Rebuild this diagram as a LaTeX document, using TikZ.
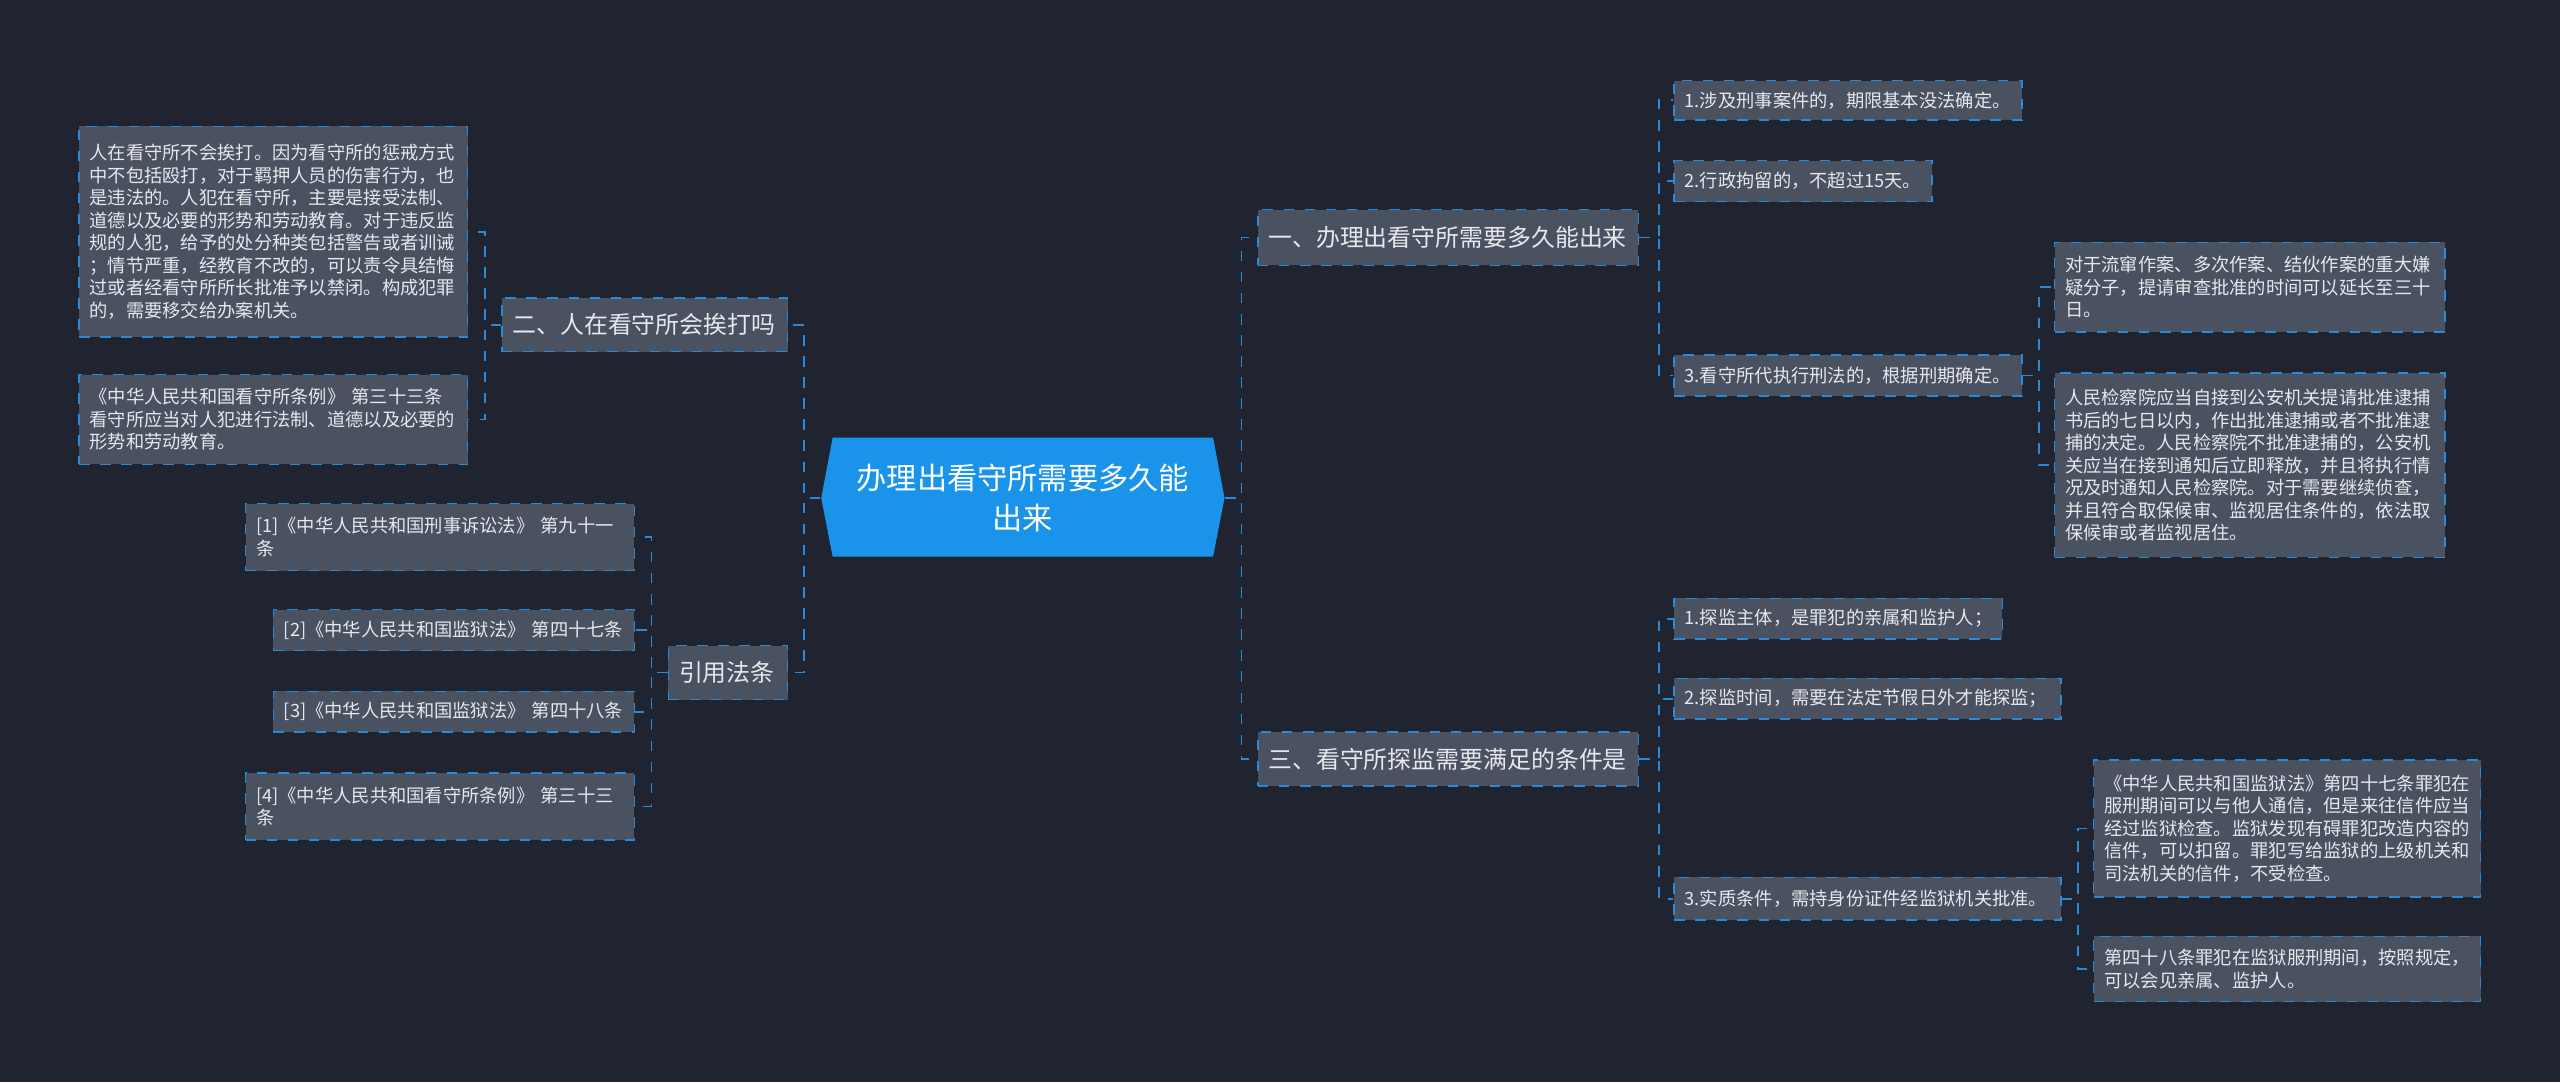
\documentclass[tikz,border=0pt]{standalone}
\usepackage{fontspec}
\setmainfont{Noto Sans CJK SC}
\usepackage{tikz}
\definecolor{bgc}{HTML}{1F2430}
\definecolor{boxc}{HTML}{4A5161}
\definecolor{linec}{HTML}{2A8AD8}
\definecolor{txtc}{HTML}{E6E8EC}
\definecolor{rootc}{HTML}{1A93EA}
\tikzset{
  leaf/.style={draw=linec,dashed,fill=boxc,text=txtc,anchor=north west,inner sep=3pt,
    align=left,font=\fontsize{5.2}{6.4}\selectfont},
  branch/.style={leaf,font=\fontsize{6.8}{8}\selectfont},
  wd/.style={text width={#1*0.1633mm-6pt}},
  ht/.style={minimum height={#1*0.1633mm}},
  link/.style={draw=linec,dashed,line width=0.5pt}
}
\begin{document}
\begin{tikzpicture}[x=0.01633cm,y=-0.01633cm]
\fill[bgc] (0,0) rectangle (1568,663);
\useasboundingbox (0,0) rectangle (1568,663);
% root
\fill[rootc] (503,305)--(510,268)--(743,268)--(750,305)--(743,341)--(510,341)--cycle;
\node[text=white,align=center,minimum width={247*0.1633mm},font=\fontsize{8.6}{11.5}\selectfont](root) at (626.5,305)
  {办理出看守所需要多久能\\出来};
% right side
\node[branch,wd=233,ht=34](b1) at (770,128) {一、办理出看守所需要多久能出来};
\node[leaf,wd=213,ht=24](b1l1) at (1025,49) {1.涉及刑事案件的，期限基本没法确定。};
\node[leaf,wd=158,ht=25](b1l2) at (1025,98) {2.行政拘留的，不超过15天。};
\node[leaf,wd=213,ht=25](b1l3) at (1025,217) {3.看守所代执行刑法的，根据刑期确定。};
\node[leaf,wd=239,ht=55](b1l3a) at (1258,148)
  {对于流窜作案、多次作案、结伙作案的重大嫌\\疑分子，提请审查批准的时间可以延长至三十\\日。};
\node[leaf,wd=239,ht=113](b1l3b) at (1258,228)
  {人民检察院应当自接到公安机关提请批准逮捕\\书后的七日以内，作出批准逮捕或者不批准逮\\捕的决定。人民检察院不批准逮捕的，公安机\\关应当在接到通知后立即释放，并且将执行情\\况及时通知人民检察院。对于需要继续侦查，\\并且符合取保候审、监视居住条件的，依法取\\保候审或者监视居住。};
\node[branch,wd=233,ht=33](b3) at (770,448) {三、看守所探监需要满足的条件是};
\node[leaf,wd=201,ht=25](b3l1) at (1025,366) {1.探监主体，是罪犯的亲属和监护人；};
\node[leaf,wd=237,ht=25](b3l2) at (1025,415) {2.探监时间，需要在法定节假日外才能探监；};
\node[leaf,wd=237,ht=26](b3l3) at (1025,537) {3.实质条件，需持身份证件经监狱机关批准。};
\node[leaf,wd=237,ht=84](b3l3a) at (1282,465)
  {《中华人民共和国监狱法》第四十七条罪犯在\\服刑期间可以与他人通信，但是来往信件应当\\经过监狱检查。监狱发现有碍罪犯改造内容的\\信件，可以扣留。罪犯写给监狱的上级机关和\\司法机关的信件，不受检查。};
\node[leaf,wd=237,ht=40](b3l3b) at (1282,573)
  {第四十八条罪犯在监狱服刑期间，按照规定，\\可以会见亲属、监护人。};
% left side
\node[branch,wd=175,ht=33](b2) at (307,182) {二、人在看守所会挨打吗};
\node[leaf,wd=238,ht=129](b2l1) at (48,77)
  {人在看守所不会挨打。因为看守所的惩戒方式\\中不包括殴打，对于羁押人员的伤害行为，也\\是违法的。人犯在看守所，主要是接受法制、\\道德以及必要的形势和劳动教育。对于违反监\\规的人犯，给予的处分种类包括警告或者训诫\\；情节严重，经教育不改的，可以责令具结悔\\过或者经看守所所长批准予以禁闭。构成犯罪\\的，需要移交给办案机关。};
\node[leaf,wd=238,ht=55](b2l2) at (48,229)
  {《中华人民共和国看守所条例》 第三十三条\\看守所应当对人犯进行法制、道德以及必要的\\形势和劳动教育。};
\node[branch,wd=73,ht=33](b4) at (409,395) {引用法条};
\node[leaf,wd=238,ht=41](b4l1) at (150,308) {[1]《中华人民共和国刑事诉讼法》 第九十一\\条};
\node[leaf,wd=221,ht=25](b4l2) at (167,373) {[2]《中华人民共和国监狱法》\ 第四十七条};
\node[leaf,wd=221,ht=25](b4l3) at (167,423) {[3]《中华人民共和国监狱法》\ 第四十八条};
\node[leaf,wd=238,ht=41](b4l4) at (150,473) {[4]《中华人民共和国看守所条例》 第三十三\\条};
% links
\foreach \b in {b1,b3} \draw[link] (root.east) -- ++(10,0) |- (\b.west);
\foreach \b in {b2,b4} \draw[link] (root.west) -- ++(-10,0) |- (\b.east);
\foreach \l in {b1l1,b1l2,b1l3} \draw[link] (b1.east) -- ++(12,0) |- (\l.west);
\foreach \l in {b1l3a,b1l3b} \draw[link] (b1l3.east) -- ++(10,0) |- (\l.west);
\foreach \l in {b3l1,b3l2,b3l3} \draw[link] (b3.east) -- ++(12,0) |- (\l.west);
\foreach \l in {b3l3a,b3l3b} \draw[link] (b3l3.east) -- ++(10,0) |- (\l.west);
\foreach \l in {b2l1,b2l2} \draw[link] (b2.west) -- ++(-10,0) |- (\l.east);
\foreach \l in {b4l1,b4l2,b4l3,b4l4} \draw[link] (b4.west) -- ++(-10,0) |- (\l.east);
\end{tikzpicture}
\end{document}
